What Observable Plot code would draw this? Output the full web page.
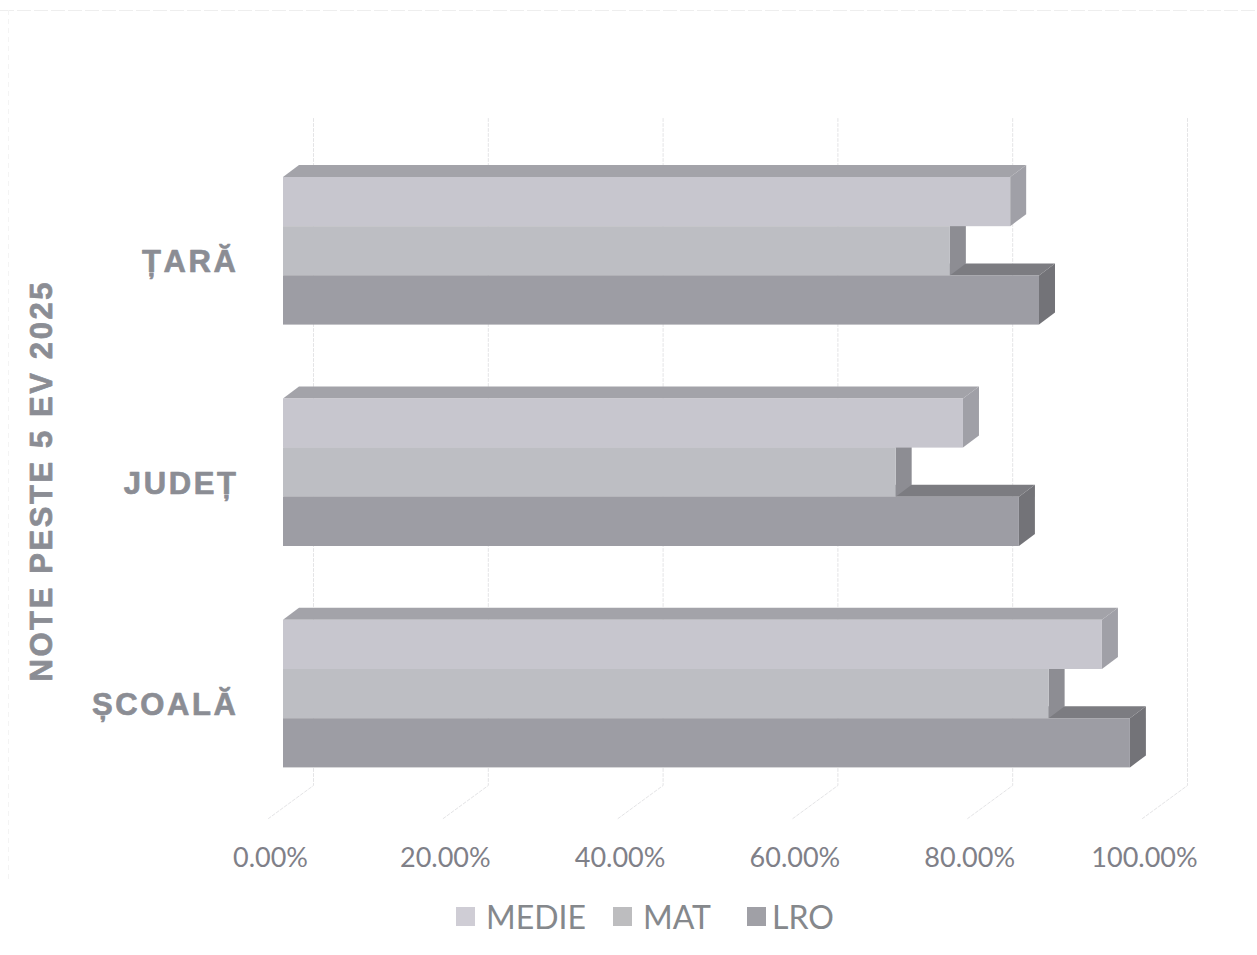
<!DOCTYPE html>
<html lang="ro">
<head>
<meta charset="utf-8">
<script src="https://cdn.jsdelivr.net/npm/d3@7"></script>
<script src="https://cdn.jsdelivr.net/npm/@observablehq/plot@0.6"></script>
<style>
  html, body { margin: 0; background: #fff; overflow: hidden; }
  #chart { width: 1257px; }
  .lg-swatches { margin: 6px 0 0 0 !important; padding-left: 456px; min-height: 40px; align-items: center; }
  .lg-swatch { color: #85888c; }
  .lg-swatch svg { margin-right: 11px !important; }
  .lg-swatch:nth-of-type(1) { margin: 0 27px 0 0 !important; }
  .lg-swatch:nth-of-type(2) { margin: 0 36px 0 0 !important; }
  .lg-swatch:nth-of-type(3) { margin: 0 !important; }
  .lg-swatch:nth-of-type(3) svg { margin-right: 6px !important; }
  .wide text { letter-spacing: 2.6px; }
</style>
</head>
<body>
<div id="chart"></div>
<script>
const categories = ["ȚARĂ", "JUDEȚ", "ȘCOALĂ"];
const series = ["MEDIE", "MAT", "LRO"];
const medie = [83.2, 77.8, 93.7];
const mat = [76.3, 70.1, 87.6];
const lro = [86.5, 84.2, 96.9];
const xTicks = [0, 20, 40, 60, 80, 100];
const axisTitle = "NOTE PESTE 5 EV 2025";

const frontColors = ["#c7c6ce", "#bdbec3", "#9d9da4"];
const topColors = ["#a3a3a9", "#a0a0a6", "#7c7c81"];
const sideColors = ["#a0a0a7", "#8d8d93", "#737378"];
const legendColors = ["#cfcdd5", "#bdbdbf", "#a0a0a6"];

const values = [medie, mat, lro];
const GROUP_STEP = 4.5;            // bars per group, plus the gap between groups
const BAR_PX = 49.2, TOP_PX = 177; // y unit and first bar edge
const X0 = 283, X_PX = 8.74;       // x origin and pixels per percent
const depthX = 16 / X_PX, depthY = 12 / BAR_PX;
const wallX = 30 / X_PX, floorFrontX = -15 / X_PX;
const wallTop = (118 - TOP_PX) / BAR_PX, wallBottom = (785 - TOP_PX) / BAR_PX, floorFront = (818 - TOP_PX) / BAR_PX;
const scanTop = (10 - TOP_PX) / BAR_PX, scanBottom = (880 - TOP_PX) / BAR_PX, scanLeft = (8 - X0) / X_PX;

const bars = [];
categories.forEach((category, g) => series.forEach((name, s) => {
  const y1 = g * GROUP_STEP + s;
  bars.push({category, series: name, s, value: values[s][g], y1, y2: y1 + 1});
}));

const wall = xTicks.flatMap(t => [
  {t, x: t + wallX, y: wallTop},
  {t, x: t + wallX, y: wallBottom},
  {t, x: t + floorFrontX, y: floorFront}
]);

const barFaces = [];
for (let s = series.length - 1; s >= 0; s--) {
  const rows = bars.filter(b => b.s === s);
  const topFace = rows.flatMap(b => [
    {id: b.category, y: b.y1, x1: 0, x2: b.value},
    {id: b.category, y: b.y1 - depthY, x1: depthX, x2: b.value + depthX}
  ]);
  const sideFace = rows.flatMap(b => [
    {id: b.category, x: b.value, y1: b.y1, y2: b.y2},
    {id: b.category, x: b.value + depthX, y1: b.y1 - depthY, y2: b.y2 - depthY}
  ]);
  barFaces.push(
    Plot.areaX(topFace, {y: "y", x1: "x1", x2: "x2", z: "id", fill: topColors[s]}),
    Plot.areaY(sideFace, {x: "x", y1: "y1", y2: "y2", z: "id", fill: sideColors[s]}),
    Plot.rect(rows, {x1: 0, x2: "value", y1: "y1", y2: "y2", fill: "series"})
  );
}

const yDomain = [-2, 14];
const plot = Plot.plot({
  width: 1257,
  height: 890,
  marginTop: 0, marginBottom: 48, marginLeft: 0, marginRight: 0,
  x: {domain: [0, 100], range: [X0, X0 + 100 * X_PX]},
  y: {domain: yDomain, range: yDomain.map(v => TOP_PX + v * BAR_PX), axis: null},
  color: {domain: series, range: frontColors},
  style: {background: "#fff", overflow: "visible"},
  marks: [
    Plot.ruleY([scanTop], {stroke: "#eeeeee", strokeDasharray: "14,3"}),
    Plot.ruleX([scanLeft], {y1: scanTop, y2: scanBottom, stroke: "#f4f4f4", strokeDasharray: "5,4"}),
    Plot.line(wall, {x: "x", y: "y", z: "t", stroke: "#e4e4e6", strokeWidth: 1, strokeDasharray: "3,2"}),
    ...barFaces,
    Plot.axisX(xTicks, {
      tickSize: 0, tickPadding: 0, dx: -13, dy: 5,
      tickFormat: d => d.toFixed(2) + "%",
      fontFamily: "Lato", fontSize: 27, fill: "#7f8088", label: null
    }),
    Plot.text(categories, {
      x: 0,
      y: (d, i) => i * GROUP_STEP + series.length / 2,
      text: d => d, dx: -45, dy: 11, textAnchor: "end",
      fontFamily: "Liberation Sans", fontWeight: "bold", fontSize: 31, fill: "#8b8d94",
      stroke: "#8b8d94", strokeWidth: 0.7,
      className: "wide"
    }),
    Plot.text([axisTitle], {
      x: 0, y: GROUP_STEP + series.length / 2, text: d => d,
      dx: -241, dy: 8, rotate: -90,
      fontFamily: "Liberation Sans", fontWeight: "bold", fontSize: 31, fill: "#8b8d94",
      stroke: "#8b8d94", strokeWidth: 0.7,
      className: "wide"
    })
  ]
});

const legend = Plot.legend({
  color: {domain: series, range: legendColors},
  swatchSize: 19, className: "lg",
  style: {fontFamily: "Lato", fontSize: "32px", color: "#85888c"}
});
const root = document.getElementById("chart");
root.append(plot, legend);
</script>
</body>
</html>
